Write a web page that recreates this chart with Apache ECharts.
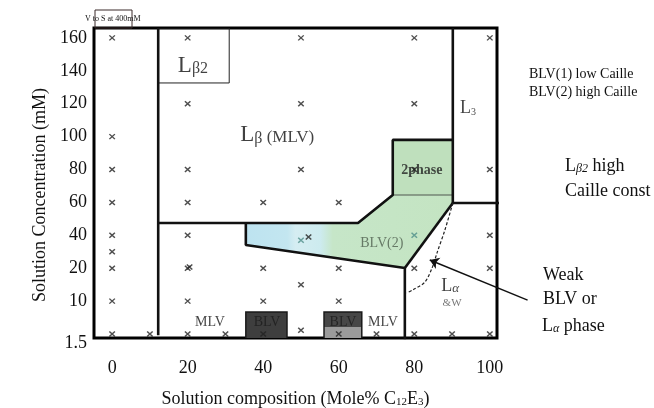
<!DOCTYPE html>
<html><head><meta charset="utf-8">
<script src="https://cdn.jsdelivr.net/npm/echarts@6/dist/echarts.min.js"></script>
<style>html,body{margin:0;padding:0;background:#fff}#c{width:654px;height:408px}</style>
</head><body><div id="c"></div>
<script>
// ---- data (composition Mole% C12E3, concentration mM) ----
const xTicks = [0, 20, 40, 60, 80, 100];
const yTicks = [1.5, 10, 20, 40, 60, 80, 100, 120, 140, 160];

const samplesBlack = [
  [0,160],[0,100],[0,80],[0,60],[0,40],[0,30],[0,20],[0,10],[0,1.5],
  [10,1.5],
  [20,160],[20,120],[20,80],[20,60],[20,40],[20,20],[20.5,20.8],[20,10],[20,1.5],
  [30,1.5],
  [40,60],[40,20],[40,10],[40,1.5],
  [50,160],[50,120],[50,80],[52,39],[50,15],[50,2.5],
  [60,60],[60,20],[60,10],[60,1.5],
  [70,1.5],
  [80,160],[80,120],[80,80],[80,20],[80,1.5],
  [90,1.5],
  [100,160],[100,80],[100,40],[100,20],[100,1.5]
];
const samplesTeal = [[50,37],[80,40]];

// phase boundaries
const boundaryA = [[12.2,166],[12.2,1.2]];
const boundaryB = [[12.2,47.5],[65.1,47.5],[74.3,64.5],[74.3,98],[90.2,98]];
const boundaryC = [[90.2,166],[90.2,59.6],[103,59.6]];
const boundaryD = [[35.4,47.5],[35.4,34.1],[77.5,20.1],[77.5,0]];
const boundaryE = [[77.5,20.1],[90.2,59.6]];
const dottedCurve = [[90.2,59.6],[88.1,43.2],[86,29.2],[84.7,20.1],[82.8,15.8],[79.6,13.4],[78,12.5]];
const arrowLine = [[110,10.3],[84.1,25]];

const blv2Region = [[35.4,47.5],[65.1,47.5],[74.3,64.5],[90.2,64.5],[90.2,59.6],[77.5,20.1],[35.4,34.1]];
const twoPhaseBox = [[74.3,64.5],[90.2,98]];
const lb2Box = [[12.2,132.6],[31,166]];
const blvBox1 = [[35.4,0],[46.3,7.2]];
const blvBox2Top = [[56.1,3.3],[66.1,7.2]];
const blvBox2Bottom = [[56.1,0],[66.1,3.3]];

const regionLabels = [
  {at:[21.4,144], text:'{L|L}{s|β2}'},
  {at:[43.7,102], text:'{L|L}{s|β}{m| (MLV)}'},
  {at:[94.2,118], text:'{L3|L}{t|3}'},
  {at:[82,79.7], text:'{p|2phase}'},
  {at:[71.4,35.3], text:'{g|BLV(2)}'},
  {at:[89.5,15.2], text:'{La|L}{sa|α}'},
  {at:[90,9.4], text:'{w|&W}'},
  {at:[25.9,4.6], text:'{n|MLV}'},
  {at:[71.7,4.6], text:'{n|MLV}'},
  {at:[41,4.6], text:'{b|BLV}'},
  {at:[61.1,4.6], text:'{b|BLV}'}
];

// ---- helpers ----
function yIdx(c){
  const t = yTicks, n = t.length - 1;
  if (c <= t[0]) return (c - t[0]) / (t[1] - t[0]);
  for (let i = 1; i <= n; i++) if (c <= t[i]) return i - 1 + (c - t[i-1]) / (t[i] - t[i-1]);
  return n + (c - t[n]) / (t[n] - t[n-1]);
}
const P = p => [p[0], yIdx(p[1])];
const rect = b => [[b[0][0],b[0][1]],[b[1][0],b[0][1]],[b[1][0],b[1][1]],[b[0][0],b[1][1]]];

const SERIF = 'Liberation Serif';
const blueGreen = {type:'linear', x:0, y:0, x2:1, y2:0, colorStops:[
  {offset:0, color:'#bde3f0'}, {offset:0.2, color:'#c3e6f0'}, {offset:0.24, color:'#d5edf2'},
  {offset:0.36, color:'#cdebef'}, {offset:0.42, color:'#c6e6c8'}, {offset:1, color:'#c4e4c2'}]};

const regions = [
  {pts: blv2Region, fill: blueGreen, stroke: null, lw: 0},
  {pts: rect(twoPhaseBox), fill: '#bfe0bd', stroke: '#333', lw: 0.8},
  {pts: rect(lb2Box), fill: 'rgba(0,0,0,0)', stroke: '#222', lw: 1},
  {pts: rect(blvBox1), fill: '#3e3e3e', stroke: '#1a1a1a', lw: 1.5},
  {pts: rect(blvBox2Top), fill: '#474747', stroke: null, lw: 0},
  {pts: rect(blvBox2Bottom), fill: '#9b9b9b', stroke: null, lw: 0},
  {pts: rect([[blvBox2Bottom[0][0], blvBox2Bottom[0][1]],[blvBox2Top[1][0], blvBox2Top[1][1]]]), fill: 'rgba(0,0,0,0)', stroke: '#1a1a1a', lw: 1.5}
];

const boundaryStyle = {color:'#111', width:2.6};
const lineSeries = [boundaryA, boundaryB, boundaryC, boundaryD, boundaryE].map(b => ({
  type:'line', data: b.map(P), symbol:'none', lineStyle: boundaryStyle, z: 3, silent: true
}));

const xPath = 'path://M0,0L10,10M10,0L0,10';
const chart = echarts.init(document.getElementById('c'));
chart.setOption({
  animation: false,
  grid: {left:94, right:157, top:28, bottom:70, show:true, borderColor:'#000', borderWidth:3,
    outerBoundsMode:'none', containLabel:false},
  xAxis: {
    type:'value', min:-4.8, max:101.9,
    axisLine:{show:false}, axisTick:{show:false}, splitLine:{show:false},
    axisLabel:{customValues:xTicks, margin:21, fontFamily:SERIF, fontSize:18, color:'#111'},
    name:'{t|Solution composition (Mole% C}{s|12}{t|E}{s|3}{t|)}',
    nameLocation:'middle', nameGap:48,
    nameTextStyle:{rich:{
      t:{fontFamily:SERIF, fontSize:18, color:'#111', verticalAlign:'bottom', lineHeight:22},
      s:{fontFamily:SERIF, fontSize:11, color:'#111', verticalAlign:'bottom', lineHeight:16}}}
  },
  yAxis: {
    type:'value', min:-0.12, max:9.3,
    axisLine:{show:false}, axisTick:{show:false}, splitLine:{show:false},
    axisLabel:{customValues:yTicks.map((_, i) => i), margin:7, lineHeight:18,
      formatter: v => { const i = Math.round(v); return i === 0 ? ' \n' + yTicks[i] : String(yTicks[i]); },
      fontFamily:SERIF, fontSize:18, color:'#111'},
    name:'Solution Concentration (mM)', nameLocation:'middle', nameGap:33,
    nameTextStyle:{fontFamily:SERIF, fontSize:18, color:'#111', padding:[0,24,0,0]}
  },
  series: [
    {type:'custom', z:1, clip:true, silent:true, data: regions.map((_, i) => [i]),
      renderItem: (params, api) => {
        const r = regions[params.dataIndex];
        return {type:'polygon', shape:{points: r.pts.map(p => api.coord(P(p)))},
          style:{fill:r.fill, stroke:r.stroke || 'none', lineWidth:r.lw}};
      }},
    ...lineSeries,
    {type:'line', data: dottedCurve.map(P), smooth:0.3, symbol:'none', z:3, silent:true,
      lineStyle:{color:'#222', width:1.2, type:[3,2]}},
    {type:'lines', coordinateSystem:'cartesian2d', clip:false, z:5, silent:true,
      symbol:['none','arrow'], symbolSize:9,
      lineStyle:{color:'#111', width:1.4, opacity:1},
      data:[{coords: arrowLine.map(P)}]},
    {type:'scatter', data: samplesBlack.map(P), symbol:xPath, symbolSize:[5.5,5], z:4, silent:true,
      itemStyle:{color:'rgba(0,0,0,0)', borderColor:'#222', borderWidth:1.4}},
    {type:'scatter', data: samplesTeal.map(P), symbol:xPath, symbolSize:[5.5,5], z:4, silent:true,
      itemStyle:{color:'rgba(0,0,0,0)', borderColor:'#4f8f8a', borderWidth:1.4}},
    {type:'scatter', z:6, silent:true, symbolSize:1, itemStyle:{color:'rgba(0,0,0,0)'},
      data: regionLabels.map(l => ({value:P(l.at), label:{formatter:l.text}})),
      label:{show:true, position:'inside', rich:{
        L:{fontFamily:SERIF, fontSize:23, color:'#111', lineHeight:26, verticalAlign:'bottom'},
        s:{fontFamily:SERIF, fontSize:16, color:'#111', lineHeight:14, verticalAlign:'bottom'},
        m:{fontFamily:SERIF, fontSize:17, color:'#111', lineHeight:22, verticalAlign:'bottom'},
        L3:{fontFamily:SERIF, fontSize:18, color:'#111', lineHeight:20, verticalAlign:'bottom'},
        t:{fontFamily:SERIF, fontSize:10, color:'#111', lineHeight:14, verticalAlign:'bottom'},
        p:{fontFamily:SERIF, fontSize:14, fontWeight:'bold', color:'#222'},
        g:{fontFamily:SERIF, fontSize:14, color:'#4e5e4e'},
        La:{fontFamily:SERIF, fontSize:18, color:'#111', lineHeight:22, verticalAlign:'bottom'},
        sa:{fontFamily:SERIF, fontSize:13, fontStyle:'italic', color:'#111', lineHeight:12, verticalAlign:'bottom'},
        w:{fontFamily:SERIF, fontSize:11, color:'#555'},
        n:{fontFamily:SERIF, fontSize:14, color:'#111'},
        b:{fontFamily:SERIF, fontSize:14, color:'#1c1c1c'}
      }}}
  ],
  graphic: [
    {type:'rect', shape:{x:95, y:10, width:37, height:18}, style:{fill:'none', stroke:'#3a2a2a', lineWidth:1}},
    {type:'text', x:85, y:19, style:{text:'V to S at 400mM', font:'8px "Liberation Serif"', fill:'#111', verticalAlign:'middle'}},
    {type:'text', x:529, y:74, style:{text:'BLV(1) low Caille', font:'14px "Liberation Serif"', fill:'#111', verticalAlign:'middle'}},
    {type:'text', x:529, y:92, style:{text:'BLV(2) high Caille', font:'14px "Liberation Serif"', fill:'#111', verticalAlign:'middle'}},
    {type:'text', x:565, y:164, style:{text:'{a|L}{b|β2}{a| high}', verticalAlign:'middle', rich:{
      a:{fontFamily:SERIF, fontSize:18, fill:'#111', lineHeight:22, verticalAlign:'bottom'},
      b:{fontFamily:SERIF, fontSize:12, fontStyle:'italic', fill:'#111', lineHeight:14, verticalAlign:'bottom'}}}},
    {type:'text', x:565, y:191, style:{text:'Caille const', font:'18px "Liberation Serif"', fill:'#111', verticalAlign:'middle'}},
    {type:'text', x:543, y:275, style:{text:'Weak', font:'18px "Liberation Serif"', fill:'#111', verticalAlign:'middle'}},
    {type:'text', x:543, y:299, style:{text:'BLV or', font:'18px "Liberation Serif"', fill:'#111', verticalAlign:'middle'}},
    {type:'text', x:542, y:324, style:{text:'{a|L}{b|α}{a| phase}', verticalAlign:'middle', rich:{
      a:{fontFamily:SERIF, fontSize:18, fill:'#111', lineHeight:22, verticalAlign:'bottom'},
      b:{fontFamily:SERIF, fontSize:12, fontStyle:'italic', fill:'#111', lineHeight:14, verticalAlign:'bottom'}}}}
  ]
});
</script>
</body></html>
